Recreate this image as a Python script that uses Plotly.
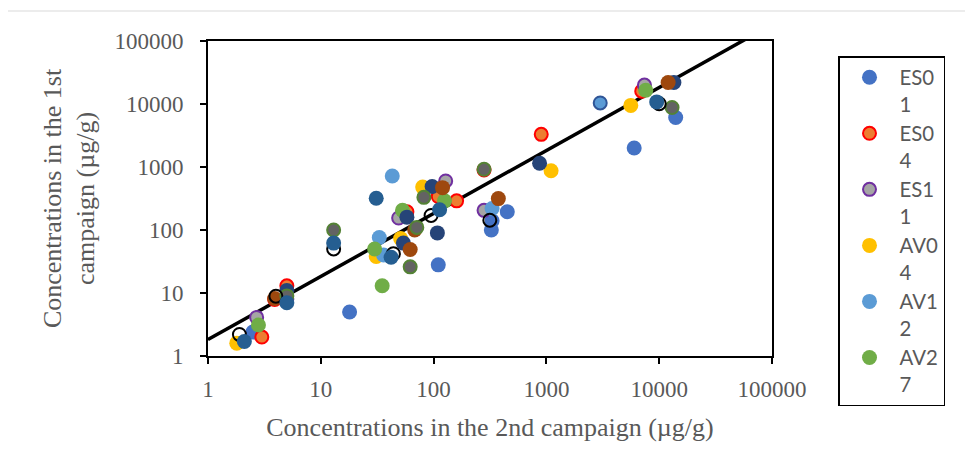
import plotly.graph_objects as go

# ---------------- data ----------------
es01_x = [2.5, 18, 110, 450, 330, 325, 6000, 14000]
es01_y = [2.4, 5, 28, 195, 140, 100, 2000, 6100]

es04_x = [3.0, 3.9, 5, 58, 110, 160, 280, 900, 7000]
es04_y = [2.0, 7.9, 13, 195, 340, 290, 900, 3300, 16000]

es11_x = [2.7, 5, 49, 128, 280, 7400]
es11_y = [4.1, 8, 155, 600, 205, 20000]

av04_x = [1.8, 51, 31, 80, 1100, 5600]
av04_y = [1.6, 73, 38, 480, 870, 9500]

av12_x = [43, 33, 36, 330]
av12_y = [720, 76, 40, 220]

av27_x = [2.8, 53, 125, 30, 35, 7600]
av27_y = [3.1, 205, 290, 50, 13, 16500]

s7_x = [5, 97, 58, 108, 54, 870, 13500]
s7_y = [11, 490, 160, 90, 62, 1150, 22000]

s8_x = [3.9, 120, 68, 62, 375, 12000]
s8_y = [8.2, 470, 100, 49, 315, 22000]

s9_x = [5, 13, 82, 71, 62, 280, 13000]
s9_y = [9, 100, 330, 110, 26, 920, 8800]

s10_x = [1.9, 4.0, 13, 95, 44, 315, 10000]
s10_y = [2.2, 8.9, 50, 170, 42, 143, 10100]

s11_x = [2.1, 5, 13, 31, 113, 42, 9500]
s11_y = [1.7, 7, 62, 320, 210, 37, 10800]

s12_x = [3000]
s12_y = [10400]

trend_coef = 1.83
trend_x = [1, 100000]
trend_y = [trend_coef * v for v in trend_x]

tick_vals = [1, 10, 100, 1000, 10000, 100000]
tick_text = ["1", "10", "100", "1000", "10000", "100000"]

legend_names = ["ES0<br>1", "ES0<br>4", "ES1<br>1", "AV0<br>4", "AV1<br>2", "AV2<br>7"]

# ---------------- figure ----------------
OFF = 8                      # page body margin offset
W, H = 973 - OFF, 468 - OFF
L, T = 200, 33
pw, ph = 564, 315
R, B = W - L - pw, H - T - ph

fig = go.Figure()

fig.add_trace(go.Scatter(x=trend_x, y=trend_y, mode="lines",
                         line=dict(color="black", width=3.5),
                         showlegend=False, hoverinfo="skip"))

series = [
    (es01_x, es01_y, legend_names[0], "#4472C4", None, True),
    (es04_x, es04_y, legend_names[1], "#ED7D31", "#FF0000", True),
    (es11_x, es11_y, legend_names[2], "#A5A5A5", "#7030A0", True),
    (av04_x, av04_y, legend_names[3], "#FFC000", None, True),
    (av12_x, av12_y, legend_names[4], "#5B9BD5", None, True),
    (av27_x, av27_y, legend_names[5], "#70AD47", None, True),
    (s7_x, s7_y, "S7", "#264478", None, False),
    (s8_x, s8_y, "S8", "#9E480E", None, False),
    (s9_x, s9_y, "S9", "#636363", "#548235", False),
    (s10_x, s10_y, "S10", "open", "#000000", False),
    (s11_x, s11_y, "S11", "#255E91", None, False),
    (s12_x, s12_y, "S12", "#5B9BD5", "#2F5597", False),
]

for xs, ys, name, fill, border, show in series:
    if fill == "open":
        marker = dict(symbol="circle-open", size=13, color=border, line=dict(width=2, color=border))
    elif border:
        marker = dict(symbol="circle", size=13, color=fill, line=dict(width=2, color=border))
    else:
        marker = dict(symbol="circle", size=15, color=fill, line=dict(width=0))
    fig.add_trace(go.Scatter(x=xs, y=ys, mode="markers", name=name,
                             marker=marker, showlegend=show))

axis_common = dict(
    type="log", range=[0, 5], tickvals=tick_vals, ticktext=tick_text,
    showgrid=False, zeroline=False, showline=True, linecolor="black", linewidth=2,
    mirror=True, ticks="outside", ticklen=6, tickwidth=1.5, tickcolor="black",
    tickfont=dict(family="Liberation Serif", size=23, color="#595959"),
)

fig.update_xaxes(**axis_common, ticklabelstandoff=5,
                 title=dict(text="Concentrations in the 2nd campaign (µg/g)",
                            font=dict(family="Liberation Serif", size=26, color="#595959"),
                            standoff=17))
fig.update_yaxes(**axis_common, ticklabelstandoff=12,
                 title=dict(text="Concentrations in the 1st<br>campaign (µg/g)",
                            font=dict(family="Liberation Serif", size=26, color="#595959"),
                            standoff=12))


def px_x(p):
    return (p - OFF - L) / pw


def px_y(p):
    return (T + ph - (p - OFF)) / ph


fig.add_shape(type="rect", xref="paper", yref="paper",
              x0=px_x(7.5), x1=px_x(990), y0=px_y(480), y1=px_y(11),
              line=dict(color="#D9D9D9", width=1), fillcolor="rgba(0,0,0,0)", layer="below")

fig.update_layout(
    width=W, height=H,
    margin=dict(l=L, r=R, t=T, b=B, autoexpand=False),
    paper_bgcolor="white", plot_bgcolor="white",
    legend=dict(x=px_x(838), y=px_y(56), xanchor="left", yanchor="top",
                bordercolor="black", borderwidth=1.5, bgcolor="white",
                font=dict(family="Lato", size=20.4, color="#595959"),
                valign="top", itemwidth=50, tracegroupgap=0),
    showlegend=True,
)
try:
    fig.update_layout(legend_maxheight=420)
except Exception:
    pass

fig.write_html("out.html")
